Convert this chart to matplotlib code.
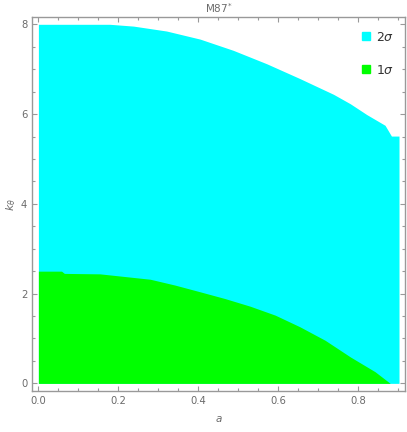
import numpy as np
import matplotlib.pyplot as plt
from matplotlib.lines import Line2D
from matplotlib.ticker import MultipleLocator

# 2 sigma boundary (upper edge of cyan region)
a_2sig = [0.0, 0.179, 0.238, 0.321, 0.405, 0.488, 0.572, 0.655, 0.739, 0.781, 0.822, 0.868, 0.884, 0.903]
k_2sig = [8.0, 8.0, 7.96, 7.85, 7.67, 7.42, 7.12, 6.79, 6.44, 6.23, 5.99, 5.75, 5.51, 5.51]

# 1 sigma boundary (upper edge of green region)
a_1sig = [0.0, 0.058, 0.065, 0.154, 0.280, 0.342, 0.405, 0.467, 0.530, 0.593, 0.655, 0.718, 0.781, 0.843, 0.881]
k_1sig = [2.50, 2.50, 2.45, 2.44, 2.32, 2.19, 2.04, 1.89, 1.72, 1.52, 1.26, 0.96, 0.59, 0.26, 0.0]

gray = '#6b6b6b'
fig = plt.figure(figsize=(4.07, 4.32), dpi=100)
ax = fig.add_axes([32/407, 1-391/432, (405-32)/407, (391-17.3)/432])

ax.fill_between(a_2sig, 0, k_2sig, color='#00ffff', lw=0)
ax.fill_between(a_1sig, 0, k_1sig, color='#00ff00', lw=0)

ax.set_xlim(-0.016, 0.918)
ax.set_ylim(-0.17, 8.156)

ax.xaxis.set_major_locator(MultipleLocator(0.2))
ax.xaxis.set_minor_locator(MultipleLocator(0.05))
ax.yaxis.set_major_locator(MultipleLocator(2))
ax.yaxis.set_minor_locator(MultipleLocator(0.5))
ax.xaxis.set_major_formatter(plt.FuncFormatter(lambda v, p: '%.1f' % v))
ax.tick_params(which='both', direction='in', top=True, right=True, colors='#999999',
               labelcolor=gray, labelsize=7.2, width=0.8)
ax.tick_params(which='major', length=3.5)
ax.tick_params(which='minor', length=2)
for s in ax.spines.values():
    s.set_color('#999999')
    s.set_linewidth(1.0)

ax.set_title('M87$^{*}$', color=gray, fontsize=7.5, pad=3)
ax.set_xlabel('$a$', color=gray, fontsize=7.5, labelpad=6)
ax.set_ylabel(r'$k_\theta$', color=gray, fontsize=8, labelpad=2)

handles = [Line2D([], [], marker='s', ls='none', color='#00ffff', markersize=6),
           Line2D([], [], marker='s', ls='none', color='#00ff00', markersize=6)]
ax.legend(handles, [r'$2\sigma$', r'$1\sigma$'], loc='upper right', bbox_to_anchor=(1.0, 0.994),
          frameon=False, fontsize=9, labelspacing=1.6, handletextpad=0.3, handlelength=1.0,
          labelcolor='#333333')

fig.savefig('out.png', dpi=100)
